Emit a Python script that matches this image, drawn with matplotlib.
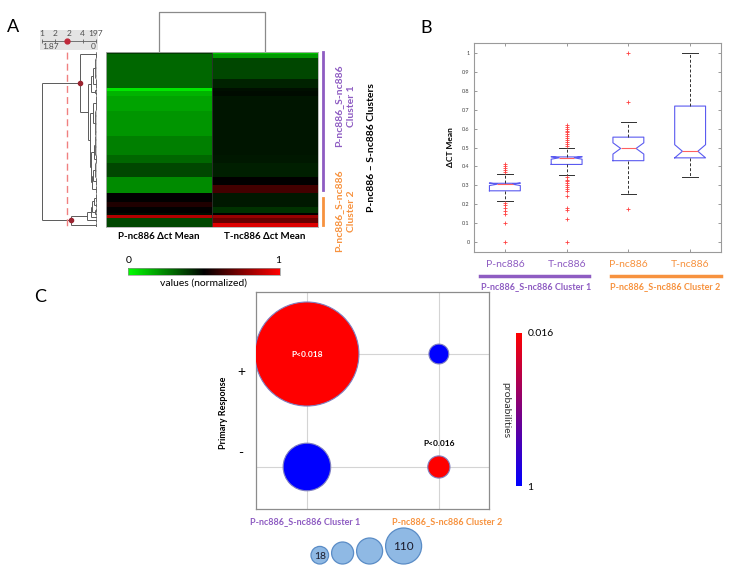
import numpy as np
import matplotlib
matplotlib.use('Agg')
import matplotlib.pyplot as plt
from matplotlib.colors import LinearSegmentedColormap, Normalize
from matplotlib.cm import ScalarMappable
from matplotlib.patches import Circle

W, H = 733, 575
plt.rcParams['font.family'] = ['Lato', 'DejaVu Sans']

PURPLE = '#8e5cc2'
ORANGE = '#f7923e'

# ---------------- panel A data (row blocks of the 197 miRNA rows) ----------------
block_rows = [2, 5, 23, 11, 3, 5, 17, 28, 22, 9, 16, 9, 9, 10, 6, 6, 3, 3, 5, 5]
p_mean = [0.38, 0.30, 0.30, 0.30, 0.05, 0.15, 0.18, 0.21, 0.25, 0.30,
          0.36, 0.23, 0.23, 0.50, 0.56, 0.50, 0.48, 0.85, 0.36, 0.36]
t_mean = [0.12, 0.20, 0.36, 0.43, 0.47, 0.48, 0.46, 0.46, 0.46, 0.45,
          0.44, 0.50, 0.63, 0.45, 0.45, 0.40, 0.50, 0.80, 0.70, 0.93]
heat_cols = ['P-nc886 Δct Mean', 'T-nc886 Δct Mean']
block_height = [0.02, 0.03, 0.06, 0.05, 0.02, 0.03, 0.05, 0.07, 0.06, 0.04,
                0.06, 0.04, 0.05, 0.05, 0.03, 0.03, 0.02, 0.02, 0.03, 0.03]
# merges: (child a, child b, height); nodes 0..19 are the blocks
merges = [(0, 1, 0.05), (2, 3, 0.12), (4, 5, 0.08), (21, 22, 0.20),
          (6, 7, 0.14), (8, 9, 0.10), (10, 11, 0.12), (26, 12, 0.16),
          (25, 27, 0.20), (24, 28, 0.25), (23, 29, 0.30), (20, 30, 0.58),
          (13, 14, 0.10), (15, 16, 0.08), (32, 33, 0.18), (34, 17, 0.22),
          (35, 18, 0.33), (36, 19, 0.88), (31, 37, 1.87)]
cluster_nodes = [31, 37]
cut_height = 1.02
scale_counts = ['1', '2', '2', '4', '197']

# ---------------- panel B data ----------------
box_labels = ['P-nc886', 'T-nc886', 'P-nc886', 'T-nc886']
box_colors = [PURPLE, PURPLE, ORANGE, ORANGE]
box_med = [0.305, 0.445, 0.495, 0.48]
box_q1 = [0.27, 0.41, 0.43, 0.445]
box_q3 = [0.31, 0.45, 0.555, 0.72]
box_lo = [0.215, 0.355, 0.255, 0.345]
box_hi = [0.36, 0.495, 0.635, 1.0]
box_cilo = [0.298, 0.438, 0.465, 0.445]
box_cihi = [0.312, 0.452, 0.525, 0.515]
box_fliers = [
    [0.41, 0.40, 0.39, 0.38, 0.37, 0.205, 0.195, 0.18, 0.165, 0.145, 0.10, 0.0],
    [0.62, 0.61, 0.60, 0.59, 0.58, 0.57, 0.56, 0.55, 0.54, 0.53, 0.52, 0.51,
     0.345, 0.33, 0.32, 0.31, 0.30, 0.29, 0.28, 0.27, 0.24, 0.18, 0.17, 0.12, 0.0],
    [1.0, 0.74, 0.175],
    [],
]
group_names = ['P-nc886_S-nc886 Cluster 1', 'P-nc886_S-nc886 Cluster 2']

# ---------------- panel C data ----------------
c_group = [0, 0, 1, 1]
c_resp = [1, 0, 1, 0]          # 1 = '+', 0 = '-'
c_counts = [110, 23, 4, 5]
c_prob = [0.018, 1.0, 1.0, 0.016]
legend_counts = [18, 40, 60, 110]


def px_axes(x0, y0, x1, y1):
    return fig.add_axes([x0 / W, 1 - y1 / H, (x1 - x0) / W, (y1 - y0) / H])


def ftext(x, y, s, **kw):
    kw.setdefault('ha', 'center')
    kw.setdefault('va', 'center')
    fig.text(x / W, 1 - y / H, s, **kw)


fig = plt.figure(figsize=(W / 100, H / 100), dpi=100)

# ================= panel A =================
heat_cmap = LinearSegmentedColormap.from_list('gkr', ['#00ff00', '#000000', '#ff0000'])
values = np.repeat(np.column_stack([p_mean, t_mean]), block_rows, axis=0)
n_rows = values.shape[0]

axh = px_axes(106, 52, 318, 227)
axh.imshow(values, cmap=heat_cmap, vmin=0, vmax=1, aspect='auto',
           interpolation='nearest', extent=(0, 2, n_rows, 0))
axh.axvline(1, color='#303030', lw=0.6)
axh.set_xticks([])
axh.set_yticks([])
for sp in axh.spines.values():
    sp.set_color('#b0b0b0')
    sp.set_linewidth(0.6)
for i, name in enumerate(heat_cols):
    axh.text(i + 0.5, n_rows + 6, name, ha='center', va='top',
             fontsize=7, fontweight='bold', clip_on=False)

# column dendrogram
axc = px_axes(106, 10, 318, 52)
axc.plot([0.5, 0.5, 1.5, 1.5], [0, 1, 1, 0], color='#8a8a8a', lw=0.9)
axc.set_xlim(0, 2)
axc.set_ylim(0, 1.05)
axc.axis('off')

# row dendrogram
axd = px_axes(40, 52, 99, 227)
axd.set_xlim(1.938, -0.068)
axd.set_ylim(n_rows, 0)
axd.axis('off')
lc = '#5a5a5a'
starts = np.concatenate([[0], np.cumsum(block_rows)[:-1]])
node_y, node_h = {}, {}
for b, (s, n) in enumerate(zip(starts, block_rows)):
    leaf_y = s + 0.5 + np.arange(n)
    axd.hlines(leaf_y, 0, block_height[b], color='#808080', lw=0.35)
    axd.vlines(block_height[b], leaf_y[0], leaf_y[-1], color=lc, lw=0.6)
    node_y[b] = leaf_y.mean()
    node_h[b] = block_height[b]
for k, (a, b, h) in enumerate(merges):
    idx = len(block_rows) + k
    for c in (a, b):
        axd.hlines(node_y[c], node_h[c], h, color=lc, lw=0.7)
    axd.vlines(h, node_y[a], node_y[b], color=lc, lw=0.7)
    node_y[idx] = (node_y[a] + node_y[b]) / 2
    node_h[idx] = h
for nd in cluster_nodes:
    axd.plot(node_h[nd], node_y[nd], 'o', color='#9b2430', ms=3, zorder=5)
axd.plot([cut_height, cut_height], [-12.4, n_rows + 1], color='#f08080',
         lw=1.0, ls=(0, (5, 3)), clip_on=False, zorder=4)

# distance / cluster count scale
axs = px_axes(40, 30, 98, 50)
axs.set_facecolor('#e4e4e4')
axs.set_xlim(1.938, -0.068)
axs.set_ylim(0, 1)
for sp in axs.spines.values():
    sp.set_visible(False)
axs.set_xticks([])
axs.set_yticks([])
scale_ticks = np.linspace(node_h[len(block_rows) + len(merges) - 1], 0, len(scale_counts))
axs.plot([scale_ticks[0], scale_ticks[-1]], [0.45, 0.45], color='#606060', lw=0.6)
axs.vlines(scale_ticks, 0.35, 0.55, color='#606060', lw=0.6)
for d, c in zip(scale_ticks, scale_counts):
    axs.text(d, 0.8, c, ha='center', va='center', fontsize=6, color='#505050')
axs.text(scale_ticks[0], 0.17, '%.2f' % scale_ticks[0], ha='left', va='center',
         fontsize=6, color='#505050')
axs.text(scale_ticks[-1], 0.17, '0', ha='right', va='center', fontsize=6, color='#505050')
axs.plot(cut_height, 0.45, 'o', color='#c0283a', ms=3.5, zorder=5)

# heatmap colour bar
axcb = px_axes(128, 268, 280, 275)
cb = fig.colorbar(ScalarMappable(Normalize(0, 1), heat_cmap), cax=axcb, orientation='horizontal')
cb.set_ticks([])
cb.outline.set_linewidth(0.5)
cb.outline.set_edgecolor('#909090')
ftext(129, 260, '0', fontsize=7.5)
ftext(278, 260, '1', fontsize=7.5)
ftext(204, 283, 'values (normalized)', fontsize=7.5)

# cluster bars and labels
fig.add_artist(plt.Line2D([323 / W, 323 / W], [1 - 52 / H, 1 - 190 / H], color=PURPLE, lw=2))
fig.add_artist(plt.Line2D([323 / W, 323 / W], [1 - 198 / H, 1 - 225 / H], color=ORANGE, lw=2))
ftext(345, 106, 'P-nc886_S-nc886\nCluster 1', rotation=90, fontsize=7.5,
      fontweight='bold', color=PURPLE, linespacing=1.5)
ftext(345, 211, 'P-nc886_S-nc886\nCluster 2', rotation=90, fontsize=7.5,
      fontweight='bold', color=ORANGE, linespacing=1.5)
ftext(372, 148, 'P-nc886 – S-nc886 Clusters', rotation=90, fontsize=7.5,
      fontweight='bold', color='black')

# ================= panel B =================
axb = px_axes(474, 43, 721, 252)
stats = []
for i in range(len(box_labels)):
    stats.append(dict(med=box_med[i], q1=box_q1[i], q3=box_q3[i],
                      whislo=box_lo[i], whishi=box_hi[i],
                      cilo=box_cilo[i], cihi=box_cihi[i],
                      fliers=np.array(box_fliers[i])))
axb.bxp(stats, positions=range(1, len(box_labels) + 1), widths=0.5,
        shownotches=True,
        boxprops=dict(color='#5a5af0', lw=0.8),
        medianprops=dict(color='#ff6060', lw=0.8),
        whiskerprops=dict(color='#303030', lw=0.7, ls=(0, (3, 2))),
        capprops=dict(color='#303030', lw=0.7),
        flierprops=dict(marker='+', markeredgecolor='#ff4040', markersize=3,
                        markeredgewidth=0.6))
axb.set_xlim(0.5, 4.5)
axb.set_ylim(-0.055, 1.055)
axb.set_yticks(np.round(np.arange(0, 1.01, 0.1), 1))
axb.set_yticklabels(['0'] + ['%.1f' % v for v in np.arange(0.1, 0.95, 0.1)] + ['1'])
axb.set_xticks(range(1, len(box_labels) + 1))
axb.set_xticklabels(box_labels)
axb.tick_params(axis='both', direction='in', top=True, right=True, length=2,
                width=0.5, color='#707070')
axb.tick_params(axis='y', labelsize=4, labelcolor='#404040', pad=3)
axb.tick_params(axis='x', labelsize=7.5, pad=6)
for lbl, c in zip(axb.get_xticklabels(), box_colors):
    lbl.set_color(c)
for sp in axb.spines.values():
    sp.set_color('#9a9a9a')
    sp.set_linewidth(0.8)
axb.set_ylabel('ΔCT Mean', fontsize=6, fontweight='bold', labelpad=6)
tb = axb.get_xaxis_transform()
axb.plot([0.6, 2.36], [-0.115, -0.115], color=PURPLE, lw=2.5, transform=tb, clip_on=False)
axb.plot([2.72, 4.5], [-0.115, -0.115], color=ORANGE, lw=2.5, transform=tb, clip_on=False)
axb.text(1.5, -0.165, group_names[0], transform=tb, ha='center', va='center',
         fontsize=6.5, fontweight='bold', color=PURPLE)
axb.text(3.6, -0.165, group_names[1], transform=tb, ha='center', va='center',
         fontsize=6.5, fontweight='bold', color=ORANGE)

# ================= panel C =================
prob_cmap = LinearSegmentedColormap.from_list('rb', ['#ff0000', '#0000ff'])
prob_norm = Normalize(0.016, 1.0)
axp = px_axes(256, 292, 489, 509)
gx = np.array(c_group) + 1
axp.scatter(gx, c_resp, s=np.array(c_counts) * 51, c=c_prob, cmap=prob_cmap,
            norm=prob_norm, edgecolors='#8080c0', linewidths=0.8, zorder=3)
axp.set_xlim(0.614, 2.38)
axp.set_ylim(-0.372, 1.549)
axp.set_xticks([1, 2])
axp.set_yticks([0, 1])
axp.grid(color='#d4d4d4', lw=0.8)
axp.set_axisbelow(True)
axp.tick_params(length=0, labelbottom=False, labelleft=False)
for sp in axp.spines.values():
    sp.set_color('#8c8c8c')
    sp.set_linewidth(0.9)
axp.text(1, 1, 'P<0.018', ha='center', va='center', color='white',
         fontsize=6, fontweight='bold', zorder=4)
axp.text(2, 0.21, 'P<0.016', ha='center', va='center', color='black',
         fontsize=6, fontweight='bold', zorder=4)
ty = axp.get_yaxis_transform()
axp.text(-0.064, 0.84, '+', transform=ty, ha='center', va='center', fontsize=10,
         clip_on=False)
axp.text(-0.064, 0.124, '-', transform=ty, ha='center', va='center', fontsize=10,
         clip_on=False)
ftext(223, 413, 'Primary Response', rotation=90, fontsize=6.5, fontweight='bold')
ftext(305, 522, group_names[0], fontsize=6.5, fontweight='bold', color=PURPLE)
ftext(447, 522, group_names[1], fontsize=6.5, fontweight='bold', color=ORANGE)

# probability colour bar
axpc = px_axes(516, 333, 522, 486)
pcb = fig.colorbar(ScalarMappable(prob_norm, prob_cmap), cax=axpc)
axpc.invert_yaxis()
pcb.set_ticks([0.016, 1.0])
pcb.set_ticklabels(['0.016', '1'])
pcb.outline.set_visible(False)
axpc.tick_params(length=0, labelsize=7.5, pad=4)
ftext(506, 410, 'probabilities', rotation=270, fontsize=7.5, color='#303030')

# bubble size legend
axl = px_axes(300, 525, 440, 572)
axl.set_xlim(300, 440)
axl.set_ylim(572, 525)
axl.axis('off')
diam = 14 + 0.2 * np.array(legend_counts)
left = 311
for i, (d, cnt) in enumerate(zip(diam, legend_counts)):
    cx = left + d / 2
    cy = 564 - d / 2
    axl.add_patch(Circle((cx, cy), d / 2, facecolor='#8fb9e4', edgecolor='#5a8cc6', lw=0.9))
    if i in (0, len(legend_counts) - 1):
        axl.text(cx, cy + 1, str(cnt), ha='center', va='center', fontsize=7.5 + 1.0 * (i > 0),
                 color='#1a1a2a')
    left += d + 3

# panel letters
ftext(13, 27, 'A', fontsize=13)
ftext(426, 28, 'B', fontsize=13)
ftext(40, 297, 'C', fontsize=13)

fig.savefig('out.png', dpi=100)
